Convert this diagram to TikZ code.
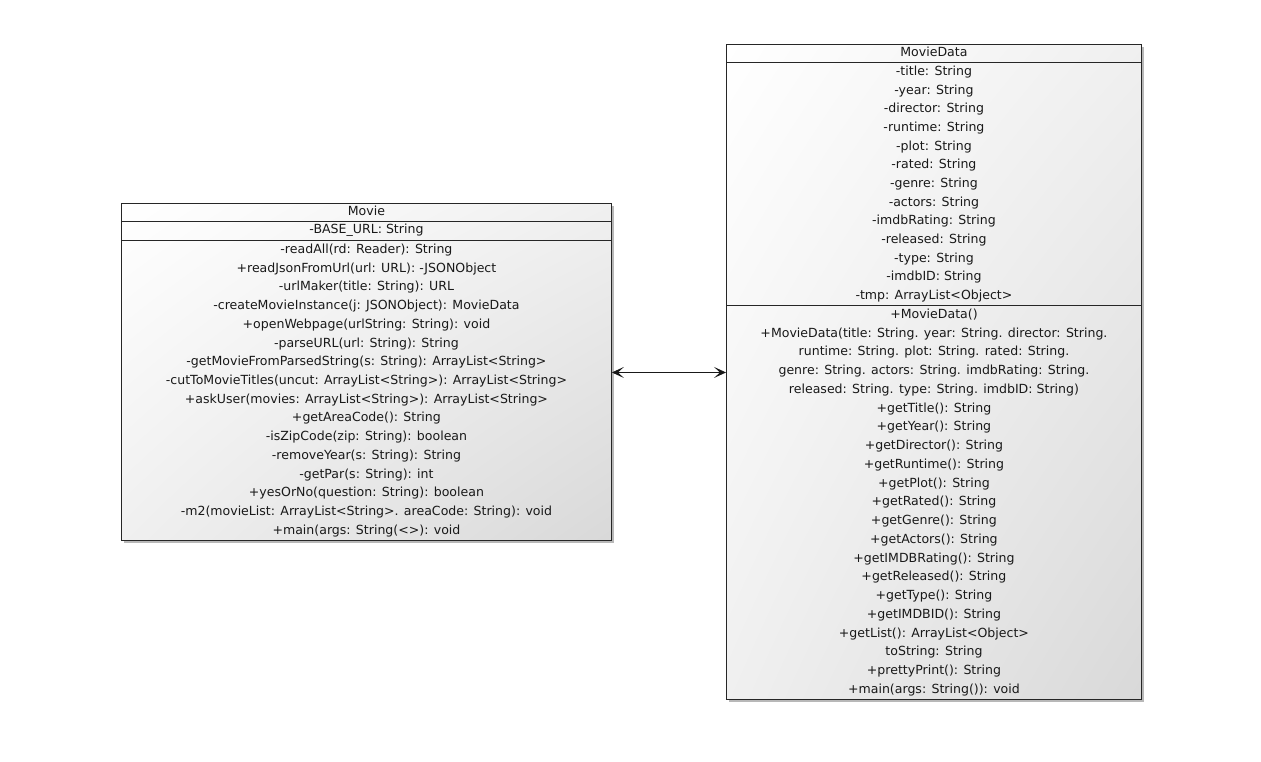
\documentclass[tikz,border=0pt]{standalone}
\usepackage{fontspec}
\setmainfont{DejaVu Sans}
\usetikzlibrary{arrows.meta,shadings}
\newcommand{\umlstrut}{\rule[-5.9pt]{0pt}{18.7pt}}
\begin{document}
\begin{tikzpicture}[x={(1pt,0pt)},y={(0pt,-1pt)},
  compart/.style={draw=black!85, line width=0.9pt, inner sep=0pt, align=center,
    font=\fontsize{12.55}{18.72}\selectfont, text=black!90, anchor=north west},
  titlebox/.style={compart, text height=10pt, text depth=4pt},
  shadowbox/.style={fill=black!28},
  classfill/.style={upper left=white, upper right=black!6, lower left=black!6, lower right=black!15},
  assoc/.style={line width=0.9pt, black!90, {Stealth[length=12pt,width=11pt,inset=6pt]}-{Stealth[length=12pt,width=11pt,inset=6pt]}}
]
\useasboundingbox (0,0) rectangle (1261,761);
% shadows and fills
\fill[shadowbox] (123.5,205.5) rectangle (613.5,542.5);
\fill[shadowbox] (728.5,46.5) rectangle (1143.5,701.5);
\shade[classfill] (121,203) rectangle (611,540);
\shade[classfill] (726,44) rectangle (1141,699);
% Movie
\node[titlebox, minimum width=490pt, minimum height=18pt] (movieTitle) at (121,203) {Movie};
\node[titlebox, minimum width=490pt, minimum height=19pt] (movieAttr) at (121,221) {-BASE\_URL: String};
\node[compart, minimum width=490pt, minimum height=300pt] (movieOps) at (121,240) {\umlstrut-readAll(rd: Reader): String\\
+readJsonFromUrl(url: URL): -JSONObject\\
-urlMaker(title: String): URL\\
-createMovieInstance(j: JSONObject): MovieData\\
+openWebpage(urlString: String): void\\
-parseURL(url: String): String\\
-getMovieFromParsedString(s: String): ArrayList<String>\\
-cutToMovieTitles(uncut: ArrayList<String>): ArrayList<String>\\
+askUser(movies: ArrayList<String>): ArrayList<String>\\
+getAreaCode(): String\\
-isZipCode(zip: String): boolean\\
-removeYear(s: String): String\\
-getPar(s: String): int\\
+yesOrNo(question: String): boolean\\
-m2(movieList: ArrayList<String>. areaCode: String): void\\
+main(args: String(<>): void\umlstrut};
% MovieData
\node[titlebox, minimum width=415pt, minimum height=18pt] (mdTitle) at (726,44) {MovieData};
\node[compart, minimum width=415pt, minimum height=243pt, font=\fontsize{12.55}{18.67}\selectfont] (mdAttr) at (726,62) {\umlstrut-title: String\\
-year: String\\
-director: String\\
-runtime: String\\
-plot: String\\
-rated: String\\
-genre: String\\
-actors: String\\
-imdbRating: String\\
-released: String\\
-type: String\\
-imdbID: String\\
-tmp: ArrayList<Object>\umlstrut};
\node[compart, minimum width=415pt, minimum height=394pt, font=\fontsize{12.55}{18.75}\selectfont] (mdOps) at (726,305) {\umlstrut+MovieData()\\
+MovieData(title: String. year: String. director: String.\\
runtime: String. plot: String. rated: String.\\
genre: String. actors: String. imdbRating: String.\\
released: String. type: String. imdbID: String)\\
+getTitle(): String\\
+getYear(): String\\
+getDirector(): String\\
+getRuntime(): String\\
+getPlot(): String\\
+getRated(): String\\
+getGenre(): String\\
+getActors(): String\\
+getIMDBRating(): String\\
+getReleased(): String\\
+getType(): String\\
+getIMDBID(): String\\
+getList(): ArrayList<Object>\\
toString: String\\
+prettyPrint(): String\\
+main(args: String()): void\umlstrut};
% association
\draw[assoc] ([yshift=18pt]movieOps.east) -- ([yshift=18pt]movieOps.east -| mdOps.west);
\end{tikzpicture}
\end{document}
